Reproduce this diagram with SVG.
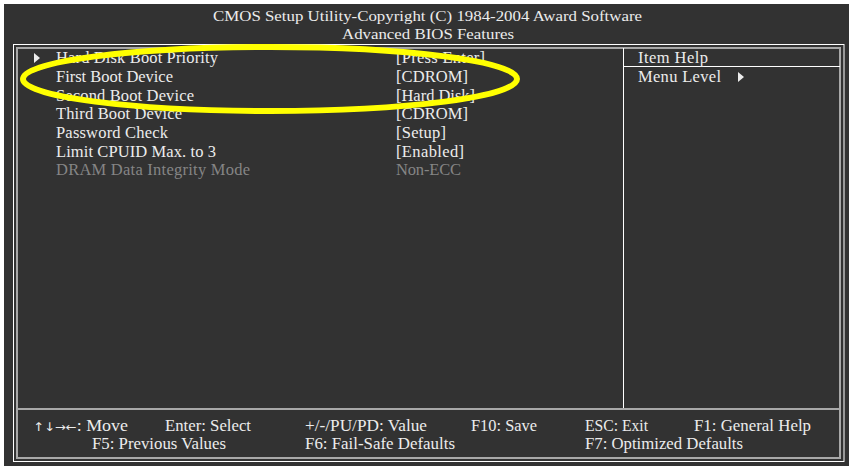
<svg xmlns="http://www.w3.org/2000/svg" width="849" height="466" viewBox="0 0 849 466">
<style>
.t{font-family:"Liberation Serif","Times New Roman",serif;font-size:16.5px;fill:#ececec}
.c{font-family:"Liberation Serif","Times New Roman",serif;font-size:16.5px;fill:#ececec}
.h{font-family:"Liberation Serif","Times New Roman",serif;font-size:15.5px;fill:#ececec}
.a{font-family:"DejaVu Sans",sans-serif;font-size:12px}
.g{fill:#858585}
.frame{fill:none;stroke:#ffffff;stroke-width:1}
.inner{fill:none;stroke:#a8a8a8;stroke-width:2}
.wl{stroke:#ffffff;stroke-width:1}
</style>
<rect x="0" y="0" width="849" height="466" fill="#ffffff"/>
<rect x="4" y="4" width="845" height="462" fill="#323232"/>
<g id="header">
<text class="h" x="427.5" y="21" text-anchor="middle" textLength="429" lengthAdjust="spacingAndGlyphs">CMOS Setup Utility-Copyright (C) 1984-2004 Award Software</text>
<text class="h" x="428" y="38.5" text-anchor="middle" textLength="172" lengthAdjust="spacingAndGlyphs">Advanced BIOS Features</text>
</g>
<g id="frames">
<rect class="frame" x="13.5" y="44.5" width="830.5" height="417"/>
<rect class="inner" x="17" y="48" width="823" height="410"/>
<line x1="17" y1="409" x2="840" y2="409" stroke="#a8a8a8" stroke-width="2"/>
<line class="wl" x1="623.5" y1="48" x2="623.5" y2="408"/>
<line class="wl" x1="623.5" y1="66.5" x2="840" y2="66.5"/>
</g>
<g id="menu">
<polygon points="34,53 40,58 34,63" fill="#ececec"/>
<text class="t" x="56" y="63" textLength="162" lengthAdjust="spacing">Hard Disk Boot Priority</text>
<text class="t" x="396" y="63" textLength="89" lengthAdjust="spacing">[Press Enter]</text>
<text class="t" x="56" y="82" textLength="117" lengthAdjust="spacing">First Boot Device</text>
<text class="t" x="396" y="82" textLength="72" lengthAdjust="spacing">[CDROM]</text>
<text class="t" x="56" y="101" textLength="138" lengthAdjust="spacing">Second Boot Device</text>
<text class="t" x="396" y="101" textLength="79" lengthAdjust="spacing">[Hard Disk]</text>
<text class="t" x="56" y="119" textLength="126" lengthAdjust="spacing">Third Boot Device</text>
<text class="t" x="396" y="119" textLength="72" lengthAdjust="spacing">[CDROM]</text>
<text class="t" x="56" y="138" textLength="112" lengthAdjust="spacing">Password Check</text>
<text class="t" x="396" y="138" textLength="50" lengthAdjust="spacing">[Setup]</text>
<text class="t" x="56" y="157" textLength="160" lengthAdjust="spacing">Limit CPUID Max. to 3</text>
<text class="t" x="396" y="157" textLength="68" lengthAdjust="spacing">[Enabled]</text>
<text class="t g" x="56" y="175" textLength="194" lengthAdjust="spacing">DRAM Data Integrity Mode</text>
<text class="t g" x="396" y="175" textLength="65" lengthAdjust="spacing">Non-ECC</text>
</g>
<g id="help">
<text class="t" x="638" y="63" textLength="70" lengthAdjust="spacing">Item Help</text>
<text class="t" x="638" y="82" textLength="83" lengthAdjust="spacing">Menu Level</text>
<polygon points="738,72 744,77 738,82" fill="#ececec"/>
</g>
<g id="footer">
<text class="c" x="33" y="431" textLength="95" lengthAdjust="spacingAndGlyphs"><tspan class="a">↑↓→←</tspan>: Move</text>
<text class="c" x="165" y="431" textLength="86" lengthAdjust="spacingAndGlyphs">Enter: Select</text>
<text class="c" x="305" y="431" textLength="122" lengthAdjust="spacingAndGlyphs">+/-/PU/PD: Value</text>
<text class="c" x="471" y="431" textLength="66" lengthAdjust="spacingAndGlyphs">F10: Save</text>
<text class="c" x="585" y="431" textLength="63" lengthAdjust="spacingAndGlyphs">ESC: Exit</text>
<text class="c" x="694" y="431" textLength="117" lengthAdjust="spacingAndGlyphs">F1: General Help</text>
<text class="c" x="92" y="449" textLength="134" lengthAdjust="spacingAndGlyphs">F5: Previous Values</text>
<text class="c" x="305" y="449" textLength="150" lengthAdjust="spacingAndGlyphs">F6: Fail-Safe Defaults</text>
<text class="c" x="585" y="449" textLength="158" lengthAdjust="spacingAndGlyphs">F7: Optimized Defaults</text>
</g>
<g id="highlight">
<ellipse cx="270" cy="79" rx="247" ry="32" fill="none" stroke="#ffff00" stroke-width="6"/>
</g>
</svg>
